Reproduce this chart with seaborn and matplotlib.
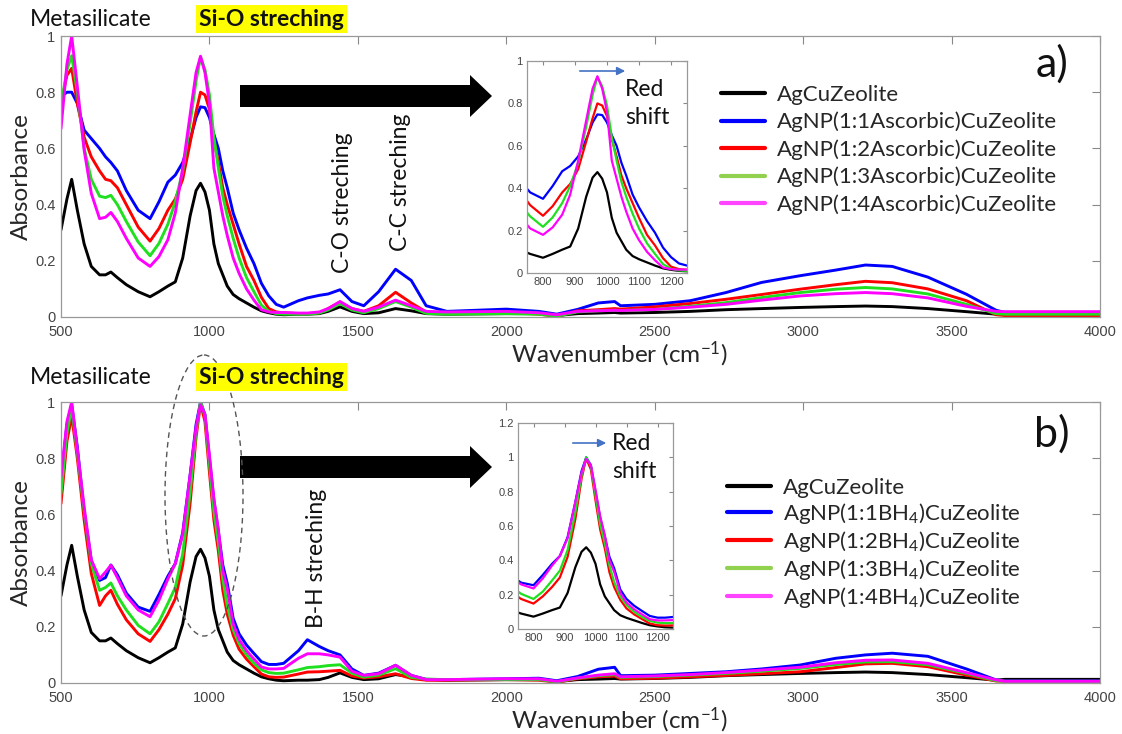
import numpy as np
import pandas as pd
import matplotlib
matplotlib.use("Agg")
import matplotlib.pyplot as plt
import seaborn as sns
from matplotlib.lines import Line2D
from matplotlib.patches import FancyArrow, Ellipse

# ---------------- data ----------------
wavenumber = [500, 520, 536, 555, 578, 602, 630, 650, 668, 690, 720, 760, 800, 830, 860, 885,
              910, 935, 955, 970, 985, 1000, 1015, 1030, 1045, 1060, 1080, 1100, 1125, 1150,
              1175, 1200, 1225, 1250, 1300, 1330, 1370, 1400, 1440, 1480, 1520, 1570, 1627,
              1680, 1730, 1800, 2000, 2110, 2170, 2240, 2310, 2365, 2385, 2500, 2620, 2740,
              2860, 2990, 3110, 3210, 3300, 3420, 3550, 3650, 3680, 4000]

agcu = [0.31, 0.42, 0.49, 0.38, 0.26, 0.18, 0.15, 0.15, 0.16, 0.14, 0.115, 0.09, 0.072, 0.09, 0.11, 0.125,
        0.21, 0.36, 0.45, 0.476, 0.445, 0.38, 0.26, 0.19, 0.15, 0.11, 0.08, 0.065, 0.05, 0.035,
        0.022, 0.015, 0.01, 0.008, 0.01, 0.01, 0.012, 0.02, 0.036, 0.02, 0.012, 0.015, 0.03,
        0.022, 0.012, 0.01, 0.012, 0.012, 0.005, 0.012, 0.014, 0.016, 0.014, 0.016, 0.02, 0.026,
        0.03, 0.034, 0.037, 0.039, 0.037, 0.03, 0.019, 0.01, 0.013, 0.013]

asc_1 = [0.784, 0.80, 0.80, 0.76, 0.665, 0.635, 0.60, 0.57, 0.55, 0.52, 0.45, 0.38, 0.35, 0.41, 0.48, 0.505,
         0.55, 0.63, 0.71, 0.748, 0.745, 0.71, 0.65, 0.60, 0.52, 0.46, 0.37, 0.31, 0.245, 0.19,
         0.12, 0.075, 0.045, 0.035, 0.058, 0.068, 0.077, 0.082, 0.097, 0.055, 0.04, 0.09, 0.17,
         0.13, 0.04, 0.02, 0.028, 0.02, 0.01, 0.027, 0.05, 0.055, 0.04, 0.045, 0.058, 0.087,
         0.123, 0.147, 0.167, 0.185, 0.18, 0.142, 0.081, 0.024, 0.016, 0.016]

asc_2 = [0.76, 0.86, 0.885, 0.76, 0.64, 0.57, 0.52, 0.49, 0.485, 0.46, 0.40, 0.32, 0.27, 0.315, 0.38, 0.42,
         0.49, 0.62, 0.73, 0.80, 0.79, 0.74, 0.63, 0.55, 0.46, 0.40, 0.33, 0.26, 0.18, 0.13,
         0.07, 0.03, 0.018, 0.015, 0.012, 0.012, 0.015, 0.03, 0.053, 0.03, 0.02, 0.04, 0.088,
         0.05, 0.018, 0.014, 0.016, 0.01, 0.002, 0.022, 0.026, 0.03, 0.028, 0.036, 0.048, 0.063,
         0.08, 0.099, 0.115, 0.127, 0.122, 0.10, 0.058, 0.008, 0.005, 0.005]

asc_3 = [0.75, 0.88, 0.93, 0.80, 0.60, 0.49, 0.43, 0.425, 0.433, 0.40, 0.34, 0.267, 0.218, 0.262, 0.33, 0.41,
         0.52, 0.69, 0.84, 0.925, 0.88, 0.79, 0.64, 0.53, 0.43, 0.36, 0.28, 0.21, 0.14, 0.09,
         0.042, 0.02, 0.012, 0.01, 0.01, 0.01, 0.014, 0.025, 0.048, 0.025, 0.015, 0.03, 0.055,
         0.035, 0.013, 0.01, 0.012, 0.01, 0.003, 0.018, 0.022, 0.024, 0.023, 0.027, 0.038, 0.051,
         0.069, 0.087, 0.099, 0.105, 0.10, 0.082, 0.045, 0.012, 0.01, 0.01]

asc_4 = [0.67, 0.90, 1.0, 0.82, 0.594, 0.44, 0.35, 0.355, 0.372, 0.34, 0.28, 0.21, 0.18, 0.215, 0.275, 0.37,
         0.53, 0.72, 0.87, 0.928, 0.87, 0.76, 0.53, 0.445, 0.36, 0.29, 0.21, 0.155, 0.10, 0.06,
         0.026, 0.018, 0.016, 0.016, 0.014, 0.014, 0.018, 0.03, 0.055, 0.03, 0.02, 0.035, 0.06,
         0.04, 0.02, 0.018, 0.02, 0.015, 0.008, 0.02, 0.022, 0.024, 0.023, 0.027, 0.035, 0.045,
         0.06, 0.075, 0.083, 0.087, 0.083, 0.068, 0.038, 0.02, 0.019, 0.019]

bh4_1 = [0.72, 0.92, 0.99, 0.84, 0.61, 0.437, 0.365, 0.375, 0.42, 0.385, 0.32, 0.27, 0.255, 0.315, 0.38, 0.425,
         0.535, 0.74, 0.92, 1.0, 0.955, 0.80, 0.65, 0.54, 0.42, 0.355, 0.23, 0.175, 0.135, 0.105,
         0.076, 0.066, 0.066, 0.07, 0.115, 0.154, 0.13, 0.115, 0.10, 0.05, 0.027, 0.035, 0.063,
         0.027, 0.013, 0.012, 0.015, 0.017, 0.008, 0.023, 0.049, 0.056, 0.026, 0.028, 0.034, 0.04,
         0.05, 0.064, 0.088, 0.10, 0.106, 0.095, 0.05, 0.011, 0.008, 0.008]

bh4_2 = [0.638, 0.86, 0.95, 0.80, 0.58, 0.39, 0.276, 0.31, 0.33, 0.28, 0.225, 0.175, 0.148, 0.19, 0.245, 0.30,
         0.42, 0.64, 0.875, 0.994, 0.93, 0.75, 0.58, 0.47, 0.33, 0.245, 0.17, 0.12, 0.085, 0.058,
         0.032, 0.022, 0.02, 0.021, 0.032, 0.039, 0.04, 0.042, 0.045, 0.025, 0.018, 0.022, 0.033,
         0.016, 0.01, 0.01, 0.012, 0.01, 0.003, 0.015, 0.022, 0.025, 0.015, 0.017, 0.022, 0.027,
         0.033, 0.04, 0.055, 0.068, 0.07, 0.058, 0.028, 0.007, 0.006, 0.006]

bh4_3 = [0.674, 0.89, 0.98, 0.82, 0.614, 0.425, 0.33, 0.34, 0.356, 0.31, 0.26, 0.205, 0.175, 0.218, 0.283, 0.34,
         0.46, 0.68, 0.895, 1.0, 0.95, 0.78, 0.61, 0.50, 0.37, 0.275, 0.19, 0.14, 0.10, 0.07,
         0.047, 0.037, 0.034, 0.035, 0.047, 0.055, 0.058, 0.062, 0.065, 0.035, 0.021, 0.028, 0.051,
         0.02, 0.014, 0.012, 0.012, 0.012, 0.004, 0.017, 0.026, 0.03, 0.02, 0.023, 0.028, 0.034,
         0.042, 0.052, 0.066, 0.075, 0.076, 0.065, 0.034, 0.008, 0.006, 0.006]

bh4_4 = [0.733, 0.93, 1.0, 0.83, 0.626, 0.437, 0.371, 0.395, 0.419, 0.375, 0.31, 0.26, 0.236, 0.295, 0.37, 0.425,
         0.53, 0.74, 0.91, 0.99, 0.955, 0.81, 0.655, 0.545, 0.40, 0.335, 0.21, 0.155, 0.115, 0.085,
         0.057, 0.05, 0.05, 0.052, 0.088, 0.104, 0.104, 0.10, 0.092, 0.042, 0.027, 0.033, 0.063,
         0.027, 0.012, 0.012, 0.015, 0.015, 0.006, 0.018, 0.028, 0.033, 0.022, 0.025, 0.03, 0.037,
         0.046, 0.056, 0.072, 0.081, 0.082, 0.07, 0.037, 0.011, 0.006, 0.006]

labels_a = ["AgCuZeolite", "AgNP(1:1Ascorbic)CuZeolite", "AgNP(1:2Ascorbic)CuZeolite",
            "AgNP(1:3Ascorbic)CuZeolite", "AgNP(1:4Ascorbic)CuZeolite"]
labels_b = ["AgCuZeolite", "AgNP(1:1BH$_4$)CuZeolite", "AgNP(1:2BH$_4$)CuZeolite",
            "AgNP(1:3BH$_4$)CuZeolite", "AgNP(1:4BH$_4$)CuZeolite"]
series_a = [agcu, asc_1, asc_2, asc_3, asc_4]
series_b = [agcu, bh4_1, bh4_2, bh4_3, bh4_4]

main_xticks = [500, 1000, 1500, 2000, 2500, 3000, 3500, 4000]
main_yticks = [0, 0.2, 0.4, 0.6, 0.8, 1]
inset_xticks = [800, 900, 1000, 1100, 1200]
inset_yticks_a = [0, 0.2, 0.4, 0.6, 0.8, 1]
inset_yticks_b = [0, 0.2, 0.4, 0.6, 0.8, 1, 1.2]

line_colors = ["#000000", "#0000ff", "#ff0000", "#1fe01f", "#ff00ff"]
legend_colors = ["#000000", "#0000ff", "#ff0000", "#92d050", "#ff44ff"]

# ---------------- style ----------------
sns.set_theme(style="white")
TXT = "Lato"
plt.rcParams["font.family"] = [TXT, "DejaVu Sans"]
plt.rcParams["mathtext.fontset"] = "custom"
plt.rcParams["mathtext.rm"] = TXT
plt.rcParams["mathtext.it"] = TXT
plt.rcParams["mathtext.bf"] = TXT + ":bold"

W, H = 1122, 734
fig = plt.figure(figsize=(W / 100, H / 100), dpi=100)
fig.patch.set_facecolor("white")

FS_ANN = 16.5   # annotation text size
FS_LEG = 16     # legend text size
FS_LAB = 17.5   # axis label size


def rect(l, t, r, b):
    return [l / W, 1 - b / H, (r - l) / W, (b - t) / H]


def style_axes(ax, xticks, yticks, fs, ticklen, xpad, ypad):
    ax.set_xticks(xticks)
    ax.set_yticks(yticks)
    ax.set_xticklabels([f"{v:g}" for v in xticks], family="Liberation Sans", fontsize=fs, color="#444444")
    ax.set_yticklabels([f"{v:g}" for v in yticks], family="Liberation Sans", fontsize=fs, color="#444444")
    ax.tick_params(direction="in", top=True, right=True, length=ticklen, width=0.8, color="#888888")
    ax.tick_params(axis="x", pad=xpad)
    ax.tick_params(axis="y", pad=ypad)
    for s in ax.spines.values():
        s.set_color("#999999")
        s.set_linewidth(0.9)
    ax.set_xlabel("")
    ax.set_ylabel("")


def draw_panel(rect_main, rect_inset, series, labels, inset_yticks, inset_ylim, leg_anchor, leg_space):
    ax = fig.add_axes(rect_main)
    for vals, c in zip(series, line_colors):
        sns.lineplot(x=wavenumber, y=vals, color=c, lw=2.1, ax=ax, legend=False)
    ax.set_xlim(500, 4000)
    ax.set_ylim(0, 1)
    style_axes(ax, main_xticks, main_yticks, 10.5, 6, 6, 4)
    ax.set_ylabel("Absorbance", fontsize=FS_LAB, labelpad=2)
    ax.set_xlabel("Wavenumber (cm$^{-1}$)", fontsize=FS_LAB, labelpad=0, x=0.537)

    handles = [Line2D([0], [0], color=c, lw=3) for c in legend_colors]
    ax.legend(handles, labels, loc="upper left", bbox_to_anchor=leg_anchor,
              bbox_transform=fig.transFigure, frameon=False, fontsize=FS_LEG,
              borderpad=0, borderaxespad=0, handlelength=2.0, handletextpad=0.5,
              labelspacing=leg_space)

    ins = fig.add_axes(rect_inset)
    ins.set_facecolor("white")
    for vals, c in zip(series, line_colors):
        sns.lineplot(x=wavenumber, y=vals, color=c, lw=1.6, ax=ins, legend=False)
    ins.set_xlim(750, 1250)
    ins.set_ylim(*inset_ylim)
    style_axes(ins, inset_xticks, inset_yticks, 8, 3, 3, 3)
    return ax


ax_a = draw_panel(rect(61, 36, 1100, 317), rect(527, 61, 687, 273), series_a, labels_a,
                  inset_yticks_a, (0, 1), (721 / W, 1 - 85 / H), 0.31)
ax_b = draw_panel(rect(61, 402, 1100, 683), rect(518, 423, 673, 629), series_b, labels_b,
                  inset_yticks_b, (0, 1.2), (727 / W, 1 - 478 / H), 0.13)

# ---------------- overlay annotations (pixel coordinates) ----------------
ov = fig.add_axes([0, 0, 1, 1], zorder=10)
ov.set_xlim(0, W)
ov.set_ylim(H, 0)
ov.axis("off")

for yc in (19, 377):
    ov.text(30, yc, "Metasilicate", fontsize=FS_ANN, va="center", ha="left", color="#111111")
    ov.text(199, yc, "Si-O streching", fontsize=FS_ANN, fontweight="bold", va="center", ha="left",
            color="#111111", bbox=dict(boxstyle="square,pad=0.15", fc="#ffff00", ec="none"))

for yc in (96, 467):
    ov.add_patch(FancyArrow(240, yc, 252, 0, width=22, head_width=42, head_length=22,
                            length_includes_head=True, color="black", lw=0))

ov.text(1052, 64, "a)", fontsize=31, ha="center", va="center", color="#111111")
ov.text(1052, 434, "b)", fontsize=31, ha="center", va="center", color="#111111")

# red shift markers
ov.annotate("", xy=(628, 71), xytext=(577, 71),
            arrowprops=dict(arrowstyle="-|>", color="#4472c4", lw=1.2, mutation_scale=12))
ov.text(625, 89, "Red", fontsize=FS_ANN, ha="left", va="center", color="#111111")
ov.text(625, 117, "shift", fontsize=FS_ANN, ha="left", va="center", color="#111111")
ov.annotate("", xy=(609, 443), xytext=(570, 443),
            arrowprops=dict(arrowstyle="-|>", color="#4472c4", lw=1.2, mutation_scale=12))
ov.text(612, 443, "Red", fontsize=FS_ANN, ha="left", va="center", color="#111111")
ov.text(612, 472, "shift", fontsize=FS_ANN, ha="left", va="center", color="#111111")

ov.text(343, 273, "C-O streching", fontsize=FS_ANN, rotation=90, ha="center", va="bottom", color="#111111")
ov.text(401, 251, "C-C streching", fontsize=FS_ANN, rotation=90, ha="center", va="bottom", color="#111111")
ov.text(317, 628, "B-H streching", fontsize=FS_ANN, rotation=90, ha="center", va="bottom", color="#111111")

ov.add_patch(Ellipse((204, 495.5), 78, 281, fill=False, ls=(0, (4, 3)), ec="#555555", lw=1.0))

fig.savefig("out.png", dpi=100, facecolor="white")
